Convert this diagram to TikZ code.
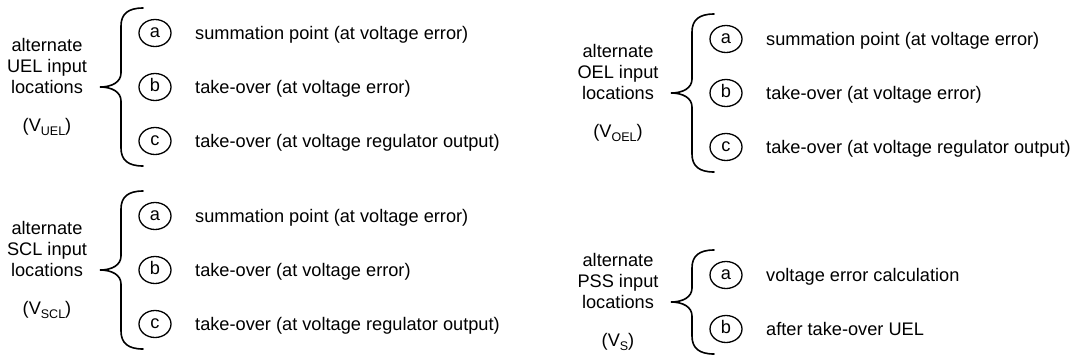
\documentclass[tikz,border=0pt]{standalone}
\usepackage{fontspec}
\setmainfont{Liberation Sans}
\usetikzlibrary{shapes.geometric}
\newcommand{\bracedraw}[3]{%
  \draw[brc] (143,#2) .. controls (128,#2) and (121,#2+6) .. (121,#2+18)
    -- (121,#1-14) .. controls (121,#1-5) and (112,#1) .. (100,#1)
    .. controls (112,#1) and (121,#1+5) .. (121,#1+14)
    -- (121,#3-18) .. controls (121,#3-6) and (128,#3) .. (143,#3);}
\newcommand{\sub}[1]{\raisebox{-0.22em}{\fontsize{12.5}{12.5}\selectfont #1}}
\begin{document}
\begin{tikzpicture}[x=1pt,y=-1pt,
  txt/.style={inner sep=0pt,font=\fontsize{18.2}{21}\selectfont},
  lbl/.style={txt,anchor=base},
  item/.style={txt,anchor=base west},
  letter/.style={draw,line width=1.3pt,ellipse,inner sep=0pt,minimum width=32pt,minimum height=27pt,
    text height=9.5pt,text depth=0pt,font=\fontsize{18.2}{21}\selectfont},
  brc/.style={line width=1.6pt,line cap=round}]
\useasboundingbox (0,0) rectangle (1074,360);
% ---------- top left: UEL ----------
\node[lbl] (uel1) at (47,87-42+6.5) {alternate};
\node[lbl] (uel2) at (47,87-21+6.5) {UEL input};
\node[lbl] (uel3) at (47,87+6.5) {locations};
\node[lbl] (uelv) at (47,87+38+6.5) {(V\sub{UEL})};
\bracedraw{87}{8}{166}
\node[letter] (uela) at (155,33) {a};
\node[letter] (uelb) at (155,87) {b};
\node[letter] (uelc) at (155,141) {c};
\node[item] (uelat) at (195,33+6.5) {summation point (at voltage error)};
\node[item] (uelbt) at (195,87+6.5) {take-over (at voltage error)};
\node[item] (uelct) at (195,141+6.5) {take-over (at voltage regulator output)};
% ---------- bottom left: SCL ----------
\node[lbl] (scl1) at (47,270-42+6.5) {alternate};
\node[lbl] (scl2) at (47,270-21+6.5) {SCL input};
\node[lbl] (scl3) at (47,270+6.5) {locations};
\node[lbl] (sclv) at (47,270+38+6.5) {(V\sub{SCL})};
\bracedraw{270}{191}{349}
\node[letter] (scla) at (155,216) {a};
\node[letter] (sclb) at (155,270) {b};
\node[letter] (sclc) at (155,324) {c};
\node[item] (sclat) at (195,216+6.5) {summation point (at voltage error)};
\node[item] (sclbt) at (195,270+6.5) {take-over (at voltage error)};
\node[item] (sclct) at (195,324+6.5) {take-over (at voltage regulator output)};
\begin{scope}[xshift=571pt]
% ---------- top right: OEL ----------
\node[lbl] (oel1) at (47,93-42+6.5) {alternate};
\node[lbl] (oel2) at (47,93-21+6.5) {OEL input};
\node[lbl] (oel3) at (47,93+6.5) {locations};
\node[lbl] (oelv) at (47,93+38+6.5) {(V\sub{OEL})};
\bracedraw{93}{14}{172}
\node[letter] (oela) at (155,39) {a};
\node[letter] (oelb) at (155,93) {b};
\node[letter] (oelc) at (155,147) {c};
\node[item] (oelat) at (195,39+6.5) {summation point (at voltage error)};
\node[item] (oelbt) at (195,93+6.5) {take-over (at voltage error)};
\node[item] (oelct) at (195,147+6.5) {take-over (at voltage regulator output)};
% ---------- bottom right: PSS ----------
\node[lbl] (pss1) at (47,302-42+6.5) {alternate};
\node[lbl] (pss2) at (47,302-21+6.5) {PSS input};
\node[lbl] (pss3) at (47,302+6.5) {locations};
\node[lbl] (pssv) at (47,302+38+6.5) {(V\sub{S})};
\bracedraw{302}{250}{354}
\node[letter] (pssa) at (155,275) {a};
\node[letter] (pssb) at (155,329) {b};
\node[item] (pssat) at (195,275+6.5) {voltage error calculation};
\node[item] (pssbt) at (195,329+6.5) {after take-over UEL};
\end{scope}
\end{tikzpicture}
\end{document}
